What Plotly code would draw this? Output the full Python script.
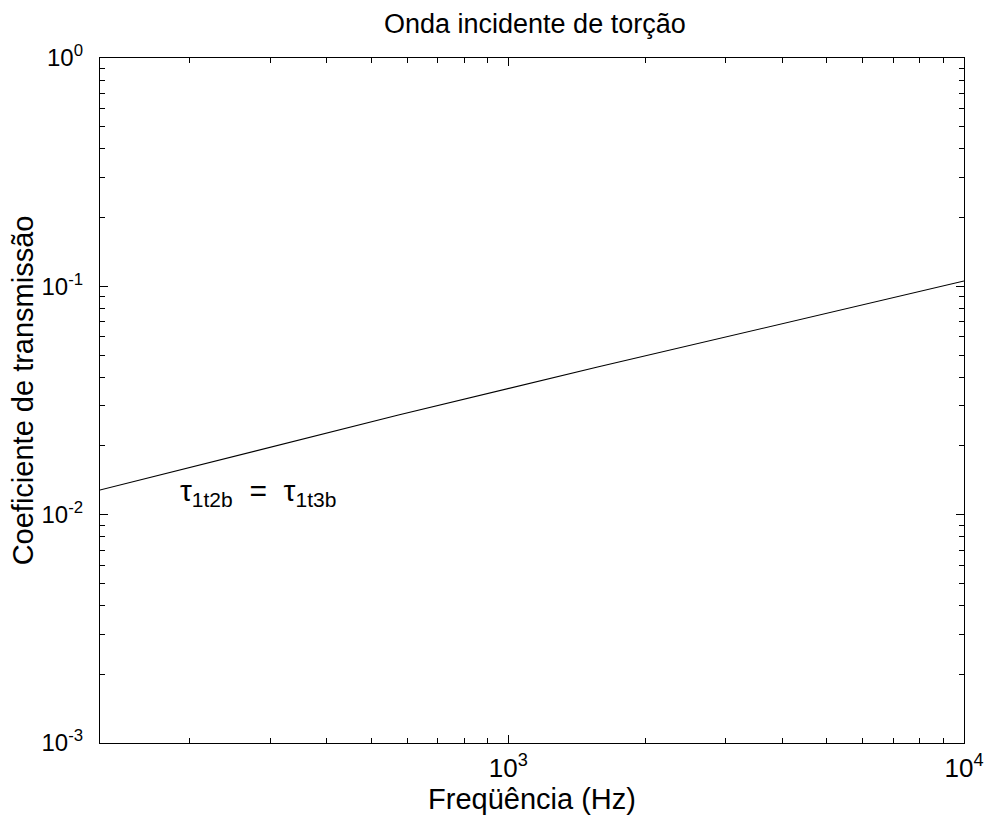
import plotly.graph_objects as go

# Torsional wave transmission coefficient vs. frequency (log-log)
freq_hz = [127, 210, 347, 574, 1570, 4290, 10000]
coef_transmissao = [0.01282, 0.01648, 0.0212, 0.0273, 0.0443, 0.0712, 0.1055]

x_major = [1e3, 1e4]
x_major_text = ["10<sup>3</sup>", "10<sup>4</sup>"]
y_major = [1e-3, 1e-2, 1e-1, 1e0]
y_major_text = ["10<sup>-3</sup>", "10<sup>-2</sup>", "10<sup>-1</sup>", "10<sup>0</sup>"]
x_minor = [200, 300, 400, 500, 600, 700, 800, 900,
           2000, 3000, 4000, 5000, 6000, 7000, 8000, 9000]
y_minor = [m * d for d in (1e-3, 1e-2, 1e-1) for m in range(2, 10)]

FONT = "Liberation Sans, Arial, Helvetica, sans-serif"

fig = go.Figure()
fig.add_trace(go.Scatter(
    x=freq_hz, y=coef_transmissao, mode="lines",
    line=dict(color="black", width=1.1), showlegend=False,
))

axis_common = dict(
    type="log", showgrid=False, zeroline=False,
    showline=True, linecolor="black", linewidth=1.3, mirror="allticks",
    ticks="inside", ticklen=8, tickwidth=1, tickcolor="black",
)

fig.update_xaxes(
    **axis_common,
    range=[2.104, 4.0],
    tickmode="array", tickvals=x_major, ticktext=x_major_text,
    tickfont=dict(family=FONT, size=26, color="black"),
    ticklabelstandoff=2,
    minor=dict(tickmode="array", tickvals=x_minor, ticks="inside",
               ticklen=5, tickcolor="black", tickwidth=1),
    title=dict(text="Freqüência (Hz)", font=dict(family=FONT, size=29, color="black"),
               standoff=0),
)
fig.update_yaxes(
    **axis_common,
    range=[-3, 0],
    tickmode="array", tickvals=y_major, ticktext=y_major_text,
    tickfont=dict(family=FONT, size=24, color="black"),
    ticklabelstandoff=11,
    minor=dict(tickmode="array", tickvals=y_minor, ticks="inside",
               ticklen=5, tickcolor="black", tickwidth=1),
)

# y-axis title, placed slightly above the plot's vertical centre
fig.add_annotation(
    xref="paper", yref="paper", x=-0.089, y=0.515,
    xanchor="center", yanchor="middle", textangle=-90,
    text="Coeficiente de transmissão",
    showarrow=False, font=dict(family=FONT, size=29, color="black"),
)

fig.add_annotation(
    xref="paper", yref="paper", x=0.183, y=0.366,
    xanchor="center", yanchor="middle",
    text="τ<sub>1t2b</sub>  =  τ<sub>1t3b</sub>",
    showarrow=False, font=dict(family=FONT, size=30, color="black"),
)

fig.update_layout(
    width=996, height=826,
    margin=dict(l=100, r=26, t=58, b=83),
    paper_bgcolor="white", plot_bgcolor="white",
    title=dict(text="Onda incidente de torção", x=0.537, xanchor="center",
               y=0.971, yanchor="middle",
               font=dict(family=FONT, size=27, color="black")),
)

fig.write_html("out.html")
